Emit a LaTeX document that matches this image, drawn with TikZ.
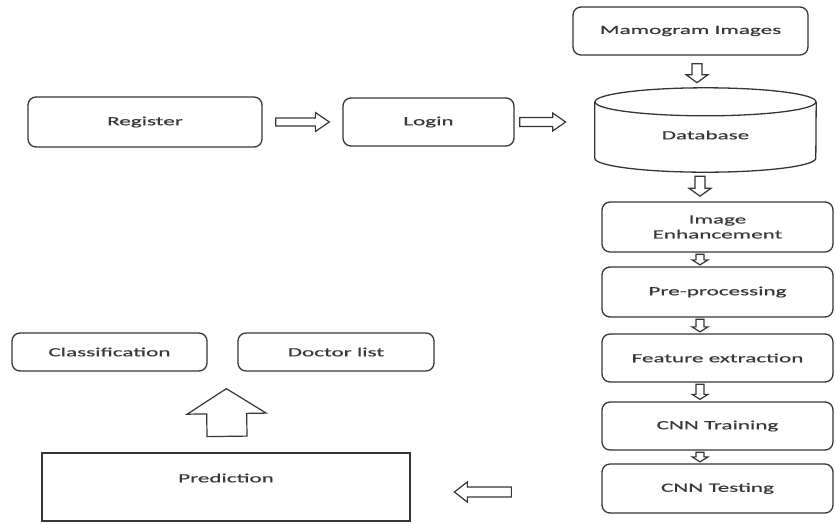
\documentclass[tikz,border=0pt]{standalone}
\usepackage{fontspec}
\setmainfont{Carlito}[FakeStretch=1.85,FakeBold=0.6]
\usetikzlibrary{calc}
\definecolor{ln}{HTML}{353535}
\definecolor{tx}{HTML}{383838}
\tikzset{
  box/.style={draw=ln, line width=1.3pt, rounded corners=8pt, inner sep=0pt, text=tx, align=center, font=\fontsize{12.5}{15}\selectfont},
  plainbox/.style={draw=ln, line width=1.3pt, inner sep=0pt},
  barrowline/.style={draw=ln, line width=1.2pt, fill=white, line join=miter},
  lbl/.style={text=tx, font=\fontsize{12.5}{15}\selectfont, inner sep=0pt},
}
% \blockarrow{start}{end}{shaft half}{head half}{head length}
\newcommand\blockarrow[5]{%
  \coordinate (bah) at ($(#2)!#5!(#1)$);
  \draw[barrowline] ($(#1)!#3!90:(#2)$) -- ($(bah)!#3!-90:(#1)$) -- ($(bah)!#4!-90:(#1)$) -- (#2)
     -- ($(bah)!#4!90:(#1)$) -- ($(bah)!#3!90:(#1)$) -- ($(#1)!#3!-90:(#2)$) -- cycle;}
\begin{document}
\begin{tikzpicture}[x=1pt,y=-1pt]
\useasboundingbox (0,0) rectangle (835,523);
% left flow
\node[box, minimum width=234pt, minimum height=50pt] (reg) at (145,122) {Register};
\node[box, minimum width=171pt, minimum height=48pt] (login) at (428.5,122) {Login};
% right column
\node[box, minimum width=235pt, minimum height=48pt] (mam) at (690.5,31) {Mamogram Images};
% database cylinder
\node[minimum width=221pt, minimum height=84pt, inner sep=0pt] (db) at (705.5,130) {};
\draw[ln, line width=1.3pt] ([yshift=-14pt]db.north) ellipse [x radius=110.5, y radius=14];
\draw[ln, line width=1.3pt] ([yshift=-14pt]db.north west) -- ([yshift=14pt]db.south west)
   arc[start angle=180, end angle=0, x radius=110.5, y radius=14] -- ([yshift=-14pt]db.north east);
\node[lbl] (dbtxt) at ([yshift=-5pt]db.center) {Database};
\node[box, minimum width=231pt, minimum height=50pt] (enh) at (717.5,227) {Image\\Enhancement};
\node[box, minimum width=231pt, minimum height=50pt] (pre) at (717.5,292) {Pre-processing};
\node[box, minimum width=231pt, minimum height=48pt] (feat) at (717.5,358) {Feature extraction};
\node[box, minimum width=231pt, minimum height=48pt] (train) at (717.5,426) {CNN Training};
\node[box, minimum width=231pt, minimum height=49pt] (test) at (717.5,488.5) {CNN Testing};
% bottom
\node[box, minimum width=195pt, minimum height=38pt] (cls) at (109.5,352) {Classification};
\node[box, minimum width=196pt, minimum height=38pt] (doc) at (336,352) {Doctor list};
\node[plainbox, minimum width=368pt, minimum height=68pt] (pred) at (226,487) {};
\node[lbl] (predtxt) at ([yshift=9pt]pred.center) {Prediction};
% arrow end points
\coordinate (a1s) at ($(reg.east)+(13,0)$);   \coordinate (a1e) at ($(login.west)+(-13,0)$);
\coordinate (a2s) at ($(login.east)+(5,0)$);  \coordinate (a2e) at ($(login.east)+(51,0)$);
\coordinate (a3s) at ($(mam.south)+(6.5,8)$); \coordinate (a3e) at ($(mam.south)+(6.5,27)$);
\coordinate (a4s) at ($(db.south)+(-5.5,4)$); \coordinate (a4e) at ($(db.south)+(-5.5,24)$);
\coordinate (a5s) at ($(enh.south)+(-17.5,1.5)$);   \coordinate (a5e) at ($(pre.north)+(-17.5,-1.5)$);
\coordinate (a6s) at ($(pre.south)+(-17.5,1.5)$);   \coordinate (a6e) at ($(feat.north)+(-17.5,-1.5)$);
\coordinate (a7s) at ($(feat.south)+(-17.5,1.5)$);  \coordinate (a7e) at ($(train.north)+(-17.5,-2)$);
\coordinate (a8s) at ($(train.south)+(-17.5,1.5)$); \coordinate (a8e) at ($(test.north)+(-17.5,-1.5)$);
\coordinate (a9s) at ($(test.west)+(-90,3.5)$);  \coordinate (a9e) at ($(test.west)+(-147,3.5)$);
\coordinate (a10s) at ($(pred.north)+(1,-16)$); \coordinate (a10e) at ($(doc.south west)+(-11,17)$);
\blockarrow{a1s}{a1e}{4pt}{9.5pt}{14pt}
\blockarrow{a2s}{a2e}{4.5pt}{9pt}{13pt}
\blockarrow{a3s}{a3e}{5pt}{11pt}{8pt}
\blockarrow{a4s}{a4e}{5pt}{11pt}{8pt}
\blockarrow{a5s}{a5e}{4pt}{8pt}{5pt}
\blockarrow{a6s}{a6e}{4pt}{8pt}{5pt}
\blockarrow{a7s}{a7e}{4pt}{8pt}{5pt}
\blockarrow{a8s}{a8e}{4pt}{8pt}{5pt}
\blockarrow{a9s}{a9e}{5pt}{10pt}{13pt}
\blockarrow{a10s}{a10e}{20pt}{39.5pt}{25pt}
\end{tikzpicture}
\end{document}
